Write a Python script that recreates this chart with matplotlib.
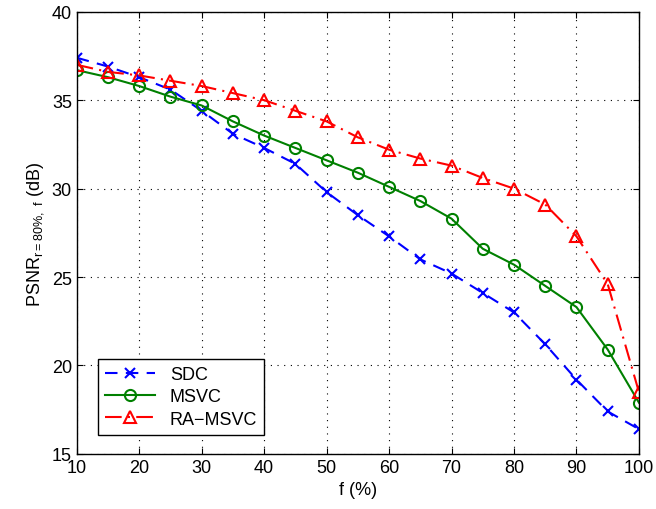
import matplotlib.pyplot as plt

plt.rcParams['font.family'] = ['Liberation Sans', 'DejaVu Sans']

f = [10, 15, 20, 25, 30, 35, 40, 45, 50, 55, 60, 65, 70, 75, 80, 85, 90, 95, 100]
sdc = [37.4, 36.9, 36.3, 35.6, 34.4, 33.1, 32.3, 31.4, 29.8, 28.5, 27.3,
       26.0, 25.2, 24.1, 23.0, 21.2, 19.2, 17.4, 16.4]
msvc = [36.7, 36.3, 35.8, 35.2, 34.7, 33.8, 33.0, 32.3, 31.6, 30.9, 30.1,
        29.3, 28.3, 26.6, 25.7, 24.5, 23.3, 20.9, 17.9]
ra_msvc = [37.0, 36.6, 36.4, 36.1, 35.8, 35.4, 35.0, 34.4, 33.8, 32.9, 32.2,
           31.7, 31.3, 30.6, 30.0, 29.1, 27.3, 24.6, 18.5]

fig = plt.figure(figsize=(6.56, 5.10), dpi=100)
ax = fig.add_axes([0.117, 0.108, 0.857, 0.867])

ax.plot(f, sdc, color="blue", linestyle=(0, (6, 4)), marker="x", markersize=7,
        markeredgewidth=1.5, linewidth=1.5, label="SDC")
ax.plot(f, msvc, color="green", linestyle="-", marker="o", markersize=8,
        markerfacecolor="none", markeredgewidth=1.5, linewidth=1.5, label="MSVC")
ax.plot(f, ra_msvc, color="red", linestyle=(0, (8, 3, 1, 3)), marker="^", markersize=9,
        markerfacecolor="none", markeredgewidth=1.5, linewidth=1.5, label="RA\u2212MSVC")

ax.set_xlim(10, 100)
ax.set_ylim(15, 40)
ax.set_xticks(range(10, 101, 10))
ax.set_yticks(range(15, 41, 5))
ax.tick_params(direction="in", labelsize=13, top=True, right=True, length=4)
ax.grid(True, linestyle=(0, (1, 5)), color="black", linewidth=0.8)
for s in ax.spines.values():
    s.set_linewidth(1.0)

ax.set_xlabel("f (%)", fontsize=13)
ax.set_ylabel(r"PSNR$_{\mathregular{r=80\%,\ f}}$ (dB)", fontsize=13)

leg = ax.legend(loc="lower left", bbox_to_anchor=(0.037, 0.043), borderaxespad=0,
                fontsize=13, fancybox=False, edgecolor="black", handlelength=2.8,
                labelspacing=0.3, framealpha=1)
leg.get_frame().set_linewidth(1.0)

plt.savefig("out.png", dpi=100)
